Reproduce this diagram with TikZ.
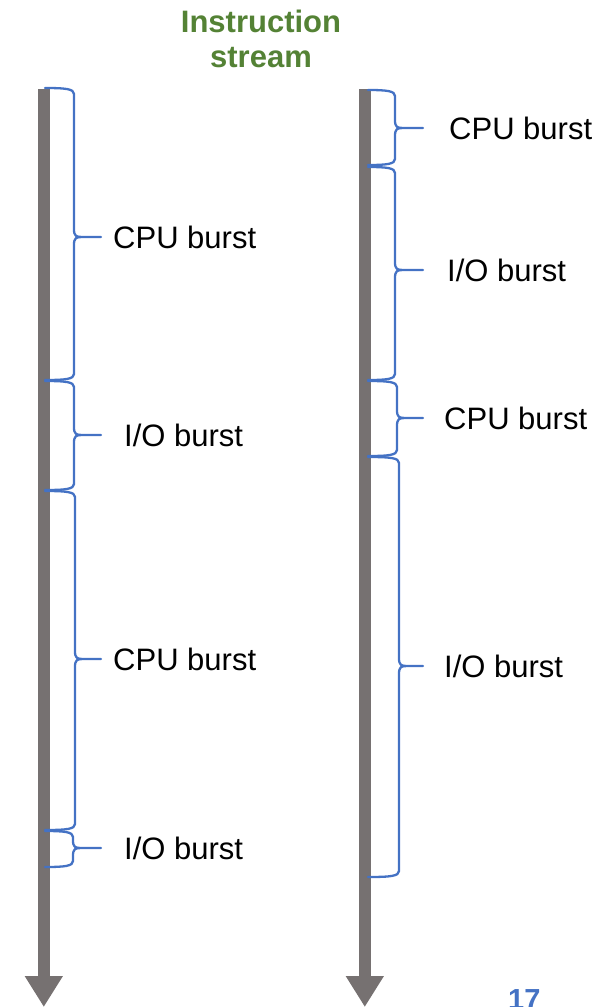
\documentclass[tikz,border=0pt]{standalone}
\usepackage{fontspec}
\setmainfont{Liberation Sans}
\usetikzlibrary{arrows.meta}
\definecolor{shaftgray}{HTML}{767171}
\definecolor{braceblue}{HTML}{4472C4}
\definecolor{titlegreen}{HTML}{548235}

% curly brace opening to the right:
% #1 start x (at the stream), #2 x of the upright stroke, #3 x of the tip,
% #4 top y, #5 bottom y, #6 y of the tip
\newcommand\burstbrace[6]{%
  \draw[bracestyle]
    (#1,#4) .. controls (#2-8,#4) and (#2,#4+1) .. (#2,#4+6)
    -- (#2,#6-8) .. controls (#2,#6-1) and (#2+2,#6) .. (#2+8,#6)
    -- (#3,#6)
    (#2+8,#6) .. controls (#2+2,#6) and (#2,#6+1) .. (#2,#6+8)
    -- (#2,#5-6) .. controls (#2,#5-1) and (#2-8,#5) .. (#1,#5);}

\begin{document}
\begin{tikzpicture}[x=1pt,y=-1pt,
  shaft/.style={draw=shaftgray,line width=11.5pt,line cap=butt,
    -{Triangle[width=36pt,length=31pt,fill=shaftgray]}},
  bracestyle/.style={draw=braceblue,line width=2.3pt,line cap=round,line join=round},
  lbl/.style={inner sep=0pt,anchor=base west,font=\fontsize{31}{36}\selectfont},
  title/.style={inner sep=0pt,anchor=north,align=center,text=titlegreen,
    font=\fontsize{31}{35}\selectfont\bfseries},
  pagenum/.style={inner sep=0pt,anchor=base west,text=braceblue,
    font=\fontsize{29}{34}\selectfont\bfseries}]
\useasboundingbox (0,0) rectangle (610,1007);

% heading
\node[title] (head) at (261,10) {Instruction\\stream};

% the two instruction streams
\coordinate (ltop) at (43.8,89);
\coordinate (lbot) at (43.8,1007);
\coordinate (rtop) at (364.8,89);
\coordinate (rbot) at (364.8,1007);
\draw[shaft] (ltop) -- (lbot);
\draw[shaft] (rtop) -- (rbot);

% left stream: long CPU bursts, short I/O bursts
\burstbrace{45}{74}{101}{88}{380}{237}
\burstbrace{45}{74}{101}{381}{490}{435}
\burstbrace{45}{75}{101}{491}{830}{659}
\burstbrace{45}{73}{101}{831}{867}{848}
\node[lbl] (lc1) at (113,248) {CPU burst};
\node[lbl] (li1) at (124,446) {I/O burst};
\node[lbl] (lc2) at (113,670) {CPU burst};
\node[lbl] (li2) at (124,859) {I/O burst};

% right stream: short CPU bursts, long I/O bursts
\burstbrace{368}{395}{423}{90}{165}{128}
\burstbrace{368}{395}{423}{167}{380}{270}
\burstbrace{368}{397}{423}{381}{456}{418}
\burstbrace{368}{399}{423}{457}{877}{666}
\node[lbl] (rc1) at (449,139) {CPU burst};
\node[lbl] (ri1) at (447,281) {I/O burst};
\node[lbl] (rc2) at (444,429) {CPU burst};
\node[lbl] (ri2) at (444,677) {I/O burst};

% slide number
\node[pagenum] (num) at (508,1009) {17};
\end{tikzpicture}
\end{document}
